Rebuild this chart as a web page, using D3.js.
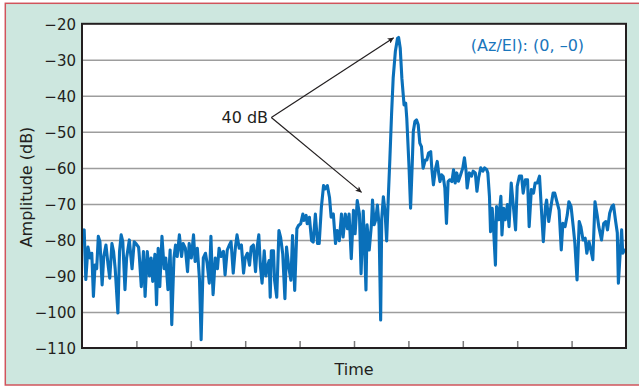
<!DOCTYPE html>
<html>
<head>
<meta charset="utf-8">
<script src="https://cdn.jsdelivr.net/npm/d3@7"></script>
<style>
  body { margin: 0; background: #fff; }
  svg { display: block; }
</style>
</head>
<body>
<div id="chart"></div>
<script>
var svgWidth = 639;
var svgHeight = 386;

// plot box inside the mint panel
var plot = { left: 82, top: 23.8, right: 626, bottom: 348 };

// time in tenths of the axis (no tick labels on the reference), amplitude in dB
var time = [0, 0.4, 0.7, 1.1, 1.5, 1.8, 2.1, 2.4, 2.7, 3.0, 3.3, 3.7, 4.0, 4.4, 4.8, 5.1, 5.5, 5.8, 6.1, 6.6, 6.9,
  7.2, 7.5, 7.9, 8.2, 8.7, 9.2, 9.6, 9.9, 10.4, 10.5, 10.9, 11.3, 11.6, 12.0, 12.4, 12.7, 13.0, 13.4, 13.7, 14.0,
  14.3, 14.7, 15.1, 15.4, 15.8, 16.2, 16.5, 16.9,
  17.2, 17.5, 17.9, 18.3, 18.6, 19.0, 19.4, 19.7, 20.1, 20.5, 20.8, 21.2, 21.6, 21.9, 22.3, 22.7, 23.0, 23.4,
  23.7, 23.9, 24.1, 24.5, 24.9, 25.2, 25.6, 26.0, 26.3, 26.7, 27.1, 27.4, 27.8, 28.2, 28.5, 28.9, 29.3, 29.7,
  30.0, 30.4, 30.8, 31.1, 31.5, 31.9, 32.2, 32.5, 32.8, 33.1, 33.5, 33.8,
  34.1, 34.4, 34.6, 34.8, 35.2, 35.4, 35.8, 36.2, 36.5, 36.9, 37.3, 37.6, 38.0, 38.4, 38.7, 39.1, 39.5, 39.8,
  40.2, 40.6, 40.8, 41.2, 41.4, 41.8, 42.2, 42.5, 42.9, 43.3, 43.6, 44.0, 44.4, 44.7, 45.1, 45.5, 45.8, 46.2,
  46.6, 46.9, 47.3, 47.7, 48.0, 48.4, 48.8, 49.1, 49.5, 49.9, 50.2, 50.6, 51.0, 51.3, 51.7,
  52.0, 52.2, 52.4, 52.8, 53.2, 53.4, 53.7, 54.0, 54.3, 54.6, 54.9, 55.1, 55.4, 55.7, 56.0, 56.3, 56.6, 56.9,
  57.2, 57.6, 58.0, 58.2, 58.5, 58.8, 59.2, 59.5, 59.7, 60.1, 60.4, 60.7, 60.9, 61.2, 61.5, 61.8, 62.1, 62.4,
  62.7, 63.1, 63.4, 63.7, 64.1, 64.3, 64.6, 65.0, 65.3, 65.6, 65.8, 66.1, 66.4, 66.7, 67.0, 67.3, 67.6, 68.0,
  68.3, 68.6, 68.9, 69.2, 69.6, 70.0, 70.3, 70.6, 70.8, 71.2, 71.6, 71.9, 72.3, 72.6, 72.9, 73.3, 73.7, 74.0,
  74.4, 74.6, 74.9, 75.1, 75.4, 75.6, 76.0, 76.2, 76.6, 77.0, 77.2, 77.5, 77.8, 78.2, 78.5, 78.9, 79.3, 79.7,
  80.0, 80.4, 80.8, 81.1, 81.5, 81.9, 82.2, 82.6, 83.0, 83.3, 83.7, 84.1, 84.4, 84.8, 85.2,
  85.4, 85.8, 86.2, 86.6, 86.9, 87.3, 87.7, 88.1, 88.4, 88.8, 89.2, 89.5, 89.9, 90.3, 90.6, 91.0, 91.4, 91.7,
  92.1, 92.5, 92.8, 93.2, 93.6, 93.9, 94.3, 94.7, 95.0, 95.5, 95.9, 96.3, 96.6, 97.0, 97.4, 97.7, 98.1, 98.4,
  98.6, 99.0, 99.2, 99.4, 99.7];

var amplitude = [-79, -77.2, -91, -82, -85, -83.7, -95.7, -87, -88, -79, -80.5, -92.5, -84.6, -81.4, -87, -90.6, -81, -83.2, -88, -100.3, -83.2,
  -78.6, -80.5, -93.8, -85, -80, -88, -80.5, -81, -82, -83.7, -93, -83.2, -95.7, -83.2, -90, -85, -91.5, -84, -98, -82.3,
  -93, -79, -88, -85, -93.8, -82.8, -103.5, -85,
  -81.4, -84.6, -78.6, -84.6, -81, -82.3, -88.8, -81, -85, -78.6, -86, -82.3, -91, -107.7, -85, -83.7, -86.5, -92,
  -79, -88, -95.2, -85, -88, -82.3, -84.6, -83.2, -89.7, -82.8, -81.4, -80.5, -89.2, -82, -78.6, -82.3, -81.4, -89.2,
  -85, -83.7, -87, -82, -81.4, -88.8, -82, -78.6, -87.4, -92, -83, -90,
  -87.5, -85.7, -95.9, -83, -83, -91.2, -95.9, -77.4, -79.2, -83.9, -96.3, -82, -87.5, -91.2, -78.8, -94, -76.9, -76,
  -75.5, -72.8, -74.6, -73.2, -75.5, -73.7, -80.2, -80.6, -72.8, -81, -81, -71, -64.9, -65.8, -64.9, -68.2, -73.7, -72.8,
  -81, -77.4, -80.2, -72.8, -79.2, -72.8, -76.9, -72.8, -85.2, -71.8, -78.3, -69.1, -72.8, -89.4, -72,
  -84.2, -93.9, -75.8, -82.8, -75.8, -68.9, -75.8, -74.4, -70.3, -75.8, -102.2, -74, -68, -72.1, -80.3, -68.4, -57.3, -45.3,
  -35.1, -27.7, -24, -23.8, -26.8, -35.1, -42.5, -42, -46.2, -59.2, -71.2, -59.2, -49.9, -47.1, -46.7, -48, -53.1, -54.1,
  -60.1, -57.8, -57.8, -55.9, -55.5, -60.1, -64.7, -60.1, -58.2, -61.9, -63.8, -61.9, -62.4, -65.6, -75.4, -63.8, -63.3, -63.8,
  -60.5, -64.2, -61.4, -63.7, -61.9, -60, -57.2, -60.9, -65.6, -61.4, -62.3, -60.9, -61.4, -66.5, -62.8, -60, -60.9, -60,
  -60.5, -61.4, -67.9, -77.7, -71.2, -75.3, -87, -70.7, -74.4, -67.9, -78.6, -71.2, -74.4, -70.2, -76.3, -64.2, -70.7, -77.2,
  -65.1, -62.3, -62.3, -67, -63.3, -63.3, -76.3, -66, -67, -64.2, -64.2, -62.3, -70.2, -80.5, -70.7,
  -68.9, -74.9, -70.7, -67, -67, -69.4, -71.7, -82.8, -75.4, -76.3, -73.1, -69.4, -70.7, -76.3, -80.9, -91.1, -74.9, -76.3,
  -80, -79.5, -83.7, -80.5, -83.2, -85.5, -69.4, -73.1, -76.3, -80, -75.4, -74.9, -77.2, -72.6, -70.7, -70.3, -74.9, -78,
  -92, -81.9, -77.2, -83.7, -82.8];

var yTicks = [-20, -30, -40, -50, -60, -70, -80, -90, -100, -110];
var yTickLabels = ["\u221220", "\u221230", "\u221240", "\u221250", "\u221260", "\u221270", "\u221280", "\u221290", "\u2212100", "\u2212110"];
var gridTicks = [-30, -40, -50, -60, -70, -80, -90, -100];
var xTicks = [10, 20, 30, 40, 50, 60, 70, 80, 90];

// annotation anchors in data units
var arrowFrom = [34.8, -46];
var arrowTips = [[57.3, -23.9], [51.4, -66.8]];
var annotLabel = { text: "40 dB", t: 34.2, db: -47.6 };
var angleLabel = { text: "(Az/El): (0, \u20130)", t: 92.3, db: -27.5 };

var font = "'DejaVu Sans', Verdana, sans-serif";
var ink = "#231f20";

var svg = d3.select("#chart")
  .append("svg")
  .attr("width", svgWidth)
  .attr("height", svgHeight);

// mint panel with red rule
svg.append("rect")
  .attr("x", 5.3).attr("y", 3.3)
  .attr("width", 640).attr("height", 381.7)
  .attr("fill", "#cde7df")
  .attr("stroke", "#d0545c")
  .attr("stroke-width", 1.5);

var xScale = d3.scaleLinear().domain([0, 100]).range([plot.left, plot.right]);
var yScale = d3.scaleLinear().domain([-20, -110]).range([plot.top, plot.bottom]);

svg.append("rect")
  .attr("x", plot.left).attr("y", plot.top)
  .attr("width", plot.right - plot.left).attr("height", plot.bottom - plot.top)
  .attr("fill", "#fff");

// gridlines
var grid = svg.append("g")
  .attr("transform", `translate(${plot.left}, 0)`)
  .call(d3.axisLeft(yScale).tickValues(gridTicks).tickSize(-(plot.right - plot.left)).tickFormat(""));
grid.select(".domain").remove();
grid.selectAll("line").attr("stroke", "#9d9d9d").attr("stroke-width", 1.5);

// short ticks on the time axis
var xAxis = svg.append("g")
  .attr("transform", `translate(0, ${plot.bottom})`)
  .call(d3.axisBottom(xScale).tickValues(xTicks).tickSize(-7).tickFormat(""));
xAxis.select(".domain").remove();
xAxis.selectAll("line").attr("stroke", "#7a7a7a").attr("stroke-width", 1.5);

// dB labels
var yAxis = svg.append("g")
  .attr("transform", `translate(${plot.left}, 0)`)
  .call(d3.axisLeft(yScale).tickValues(yTicks).tickSize(0).tickPadding(6)
    .tickFormat(function(d, i) { return yTickLabels[i]; }));
yAxis.select(".domain").remove();
yAxis.attr("font-family", font).attr("font-size", 15);
yAxis.selectAll("text").attr("fill", ink).attr("dy", "0.36em");

// signal
svg.append("clipPath").attr("id", "plotClip")
  .append("rect")
  .attr("x", plot.left).attr("y", plot.top)
  .attr("width", plot.right - plot.left).attr("height", plot.bottom - plot.top);

var points = time.map(function(t, i) { return [t, amplitude[i]]; });

var line = d3.line()
  .x(function(d) { return xScale(d[0]); })
  .y(function(d) { return yScale(d[1]); });

svg.append("path")
  .datum(points)
  .attr("clip-path", "url(#plotClip)")
  .attr("d", line)
  .attr("fill", "none")
  .attr("stroke", "#0a70ba")
  .attr("stroke-width", 3.1)
  .attr("stroke-linejoin", "round")
  .attr("stroke-linecap", "round");

// frame
svg.append("rect")
  .attr("x", plot.left).attr("y", plot.top)
  .attr("width", plot.right - plot.left).attr("height", plot.bottom - plot.top)
  .attr("fill", "none")
  .attr("stroke", ink)
  .attr("stroke-width", 2);

// arrows
svg.append("defs").append("marker")
  .attr("id", "head")
  .attr("viewBox", "0 0 10 10")
  .attr("refX", 10).attr("refY", 5)
  .attr("markerWidth", 9).attr("markerHeight", 6)
  .attr("markerUnits", "userSpaceOnUse")
  .attr("orient", "auto")
  .append("path")
  .attr("d", "M0,0 L10,5 L0,10 L2.5,5 Z")
  .attr("fill", ink);

svg.selectAll(".arrow")
  .data(arrowTips)
  .enter().append("line")
  .attr("class", "arrow")
  .attr("x1", xScale(arrowFrom[0])).attr("y1", yScale(arrowFrom[1]))
  .attr("x2", function(d) { return xScale(d[0]); })
  .attr("y2", function(d) { return yScale(d[1]); })
  .attr("stroke", ink)
  .attr("stroke-width", 1.2)
  .attr("marker-end", "url(#head)");

svg.append("text")
  .attr("x", xScale(annotLabel.t)).attr("y", yScale(annotLabel.db))
  .attr("text-anchor", "end")
  .attr("font-family", font).attr("font-size", 16)
  .attr("fill", ink)
  .text(annotLabel.text);

svg.append("text")
  .attr("x", xScale(angleLabel.t)).attr("y", yScale(angleLabel.db))
  .attr("text-anchor", "end")
  .attr("font-family", font).attr("font-size", 16)
  .attr("fill", "#1a76bc")
  .text(angleLabel.text);

// axis titles
svg.append("text")
  .attr("x", (plot.left + plot.right) / 2).attr("y", 374.5)
  .attr("text-anchor", "middle")
  .attr("font-family", font).attr("font-size", 16)
  .attr("fill", ink)
  .text("Time");

svg.append("text")
  .attr("transform", "translate(32, 187) rotate(-90)")
  .attr("text-anchor", "middle")
  .attr("font-family", font).attr("font-size", 16)
  .attr("fill", ink)
  .text("Amplitude (dB)");
</script>
</body>
</html>
